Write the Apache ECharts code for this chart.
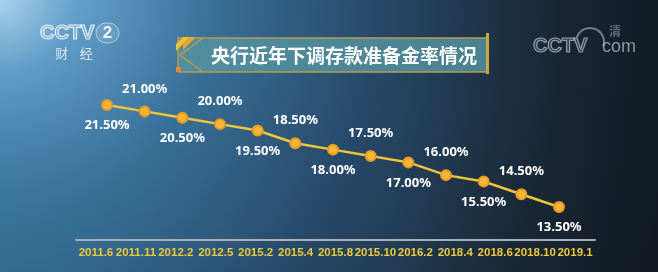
<!DOCTYPE html>
<html><head><meta charset="utf-8">
<script src="https://cdn.jsdelivr.net/npm/echarts@6/dist/echarts.min.js"></script>
<style>html,body{margin:0;padding:0;background:#1d3346;}#c{width:658px;height:272px;}</style>
</head><body><div id="c"></div>
<script>
// ---- data ----
var title = '央行近年下调存款准备金率情况';
var categories = ['2011.6','2011.11','2012.2','2012.5','2015.2','2015.4','2015.8','2015.10','2016.2','2018.4','2018.6','2018.10','2019.1'];
var rates = [21.5, 21.0, 20.5, 20.0, 19.5, 18.5, 18.0, 17.5, 17.0, 16.0, 15.5, 14.5, 13.5];
// label placement: alternating below / above
var labelSide = ['bottom','top','bottom','top','bottom','top','bottom','top','bottom','top','bottom','top','bottom'];

var chart = echarts.init(document.getElementById('c'), null, {renderer:'canvas'});

var seriesData = rates.map(function(v, i){
  var top = labelSide[i] === 'top';
  return {value: v, label: {position: labelSide[i], distance: top ? 10 : 8}};
});

var option = {
  animation: false,
  backgroundColor: {
    type: 'radial', x: 0, y: 0, r: 760, global: true,
    colorStops: [
      {offset: 0, color: '#b4dcf4'},
      {offset: 0.1, color: '#6aa8d6'},
      {offset: 0.28, color: '#3c75a0'},
      {offset: 0.5, color: '#2a4e70'},
      {offset: 0.75, color: '#1f3142'},
      {offset: 1, color: '#161c23'}
    ]
  },
  graphic: [
    {type:'rect', silent:true, z:-10, shape:{x:0,y:0,width:658,height:272},
     style:{fill:{type:'linear',x:0,y:0,x2:1,y2:0,colorStops:[
       {offset:0,color:'rgba(10,20,30,0)'},{offset:0.6,color:'rgba(10,18,26,0.1)'},{offset:1,color:'rgba(8,12,16,0.45)'}]}}},
    {type:'rect', silent:true, z:-9, shape:{x:0,y:0,width:658,height:272},
     style:{fill:{type:'radial',x:0,y:272,r:330,global:true,colorStops:[
       {offset:0,color:'rgba(50,115,150,0.45)'},{offset:1,color:'rgba(40,90,120,0)'}]}}},
    // title box
    {type:'polygon', z:5, shape:{points:[[178,38],[487,38],[487,72],[178,72]]},
     style:{fill:'rgba(85,148,160,0.82)', stroke:'#b79c52', lineWidth:1.5}},
    {type:'polyline', z:6, shape:{points:[[203,38],[180,55],[203,72]]},
     style:{stroke:'#b79c52', lineWidth:1.5, fill:null}},
    {type:'polygon', z:6, shape:{points:[[176,44],[183,37],[190,37],[176,51]]}, style:{fill:'#f2c230'}},
    {type:'polygon', z:6, shape:{points:[[183,44],[190,37],[196,37],[183,50]]}, style:{fill:'#e8a630'}},
    {type:'rect', z:6, shape:{x:176,y:67,width:5,height:5}, style:{fill:'#d98a3a'}},
    {type:'rect', z:6, shape:{x:486,y:33,width:3,height:41}, style:{fill:'#c9a648'}},
    {type:'text', z:7, style:{text:title, x:344, y:56, align:'center', verticalAlign:'middle',
      fill:'#ffffff', font:'bold 19px "Noto Sans CJK SC"'}},
    // CCTV2 finance logo
    {type:'text', z:4, style:{text:'CCTV', x:40, y:33, verticalAlign:'middle',
      fill:'rgba(255,255,255,0.15)', stroke:'rgba(255,255,255,0.8)', lineWidth:1.2,
      font:'bold 20px "Liberation Sans", sans-serif'}},
    {type:'rect', z:4, shape:{x:96,y:23,width:23,height:20,r:10},
     style:{fill:'rgba(255,255,255,0.12)', stroke:'rgba(255,255,255,0.5)', lineWidth:1}},
    {type:'text', z:5, style:{text:'2', x:107.5, y:33, align:'center', verticalAlign:'middle',
      fill:'rgba(255,255,255,0.9)', font:'bold 17px "Liberation Sans", sans-serif'}},
    {type:'text', z:4, style:{text:'财    经', x:74, y:53, align:'center', verticalAlign:'middle',
      fill:'rgba(255,255,255,0.75)', font:'13px "Noto Sans CJK SC"'}},
    // CCTV.com logo
    {type:'text', z:4, style:{text:'CCTV', x:533, y:46, verticalAlign:'middle',
      fill:'rgba(200,210,220,0.15)', stroke:'rgba(190,200,210,0.7)', lineWidth:1.2,
      font:'bold 20px "Liberation Sans", sans-serif'}},
    {type:'text', z:4, style:{text:'com', x:602, y:47, verticalAlign:'middle',
      fill:'rgba(190,200,210,0.7)', font:'18px "Liberation Sans", sans-serif'}},
    {type:'arc', z:4, shape:{cx:590,cy:42,r:14,startAngle:-2.8,endAngle:0.3},
     style:{stroke:'rgba(190,200,210,0.55)', lineWidth:2, fill:null}},
    {type:'text', z:4, style:{text:'清', x:609, y:31, verticalAlign:'middle',
      fill:'rgba(190,200,210,0.45)', font:'bold 12px "Noto Sans CJK SC"'}}
  ],
  grid: [
    {left: 76, right: 63, top: 90, bottom: 32},
    {left: 107, right: 99, top: 105, bottom: 65}
  ],
  xAxis: [
    {type:'category', gridIndex:0, data:categories, boundaryGap:true,
     axisLine:{show:true, lineStyle:{color:'#a7b0ba', width:2}},
     axisTick:{show:false},
     axisLabel:{interval:0, margin:7, color:'#ecc93c', fontWeight:'bold', fontSize:11.5,
       fontFamily:'"Liberation Sans", sans-serif'}},
    {type:'category', gridIndex:1, data:categories, boundaryGap:false, show:false}
  ],
  yAxis: [
    {type:'value', gridIndex:0, show:false, min:0, max:1},
    {type:'value', gridIndex:1, show:false, min:13.5, max:21.5}
  ],
  series: [{
    type:'line', xAxisIndex:1, yAxisIndex:1, data:seriesData,
    symbol:'circle', symbolSize:10,
    lineStyle:{color:'#eec63a', width:2.5},
    itemStyle:{color:'#f6b733', borderColor:'#e9992a', borderWidth:2},
    label:{show:true, color:'#ffffff', fontWeight:'bold', fontSize:13,
      fontFamily:'"Noto Sans", "Liberation Sans", sans-serif',
      formatter:function(p){ return p.value.toFixed(2) + '%'; }}
  }]
};
chart.setOption(option);
</script></body></html>
